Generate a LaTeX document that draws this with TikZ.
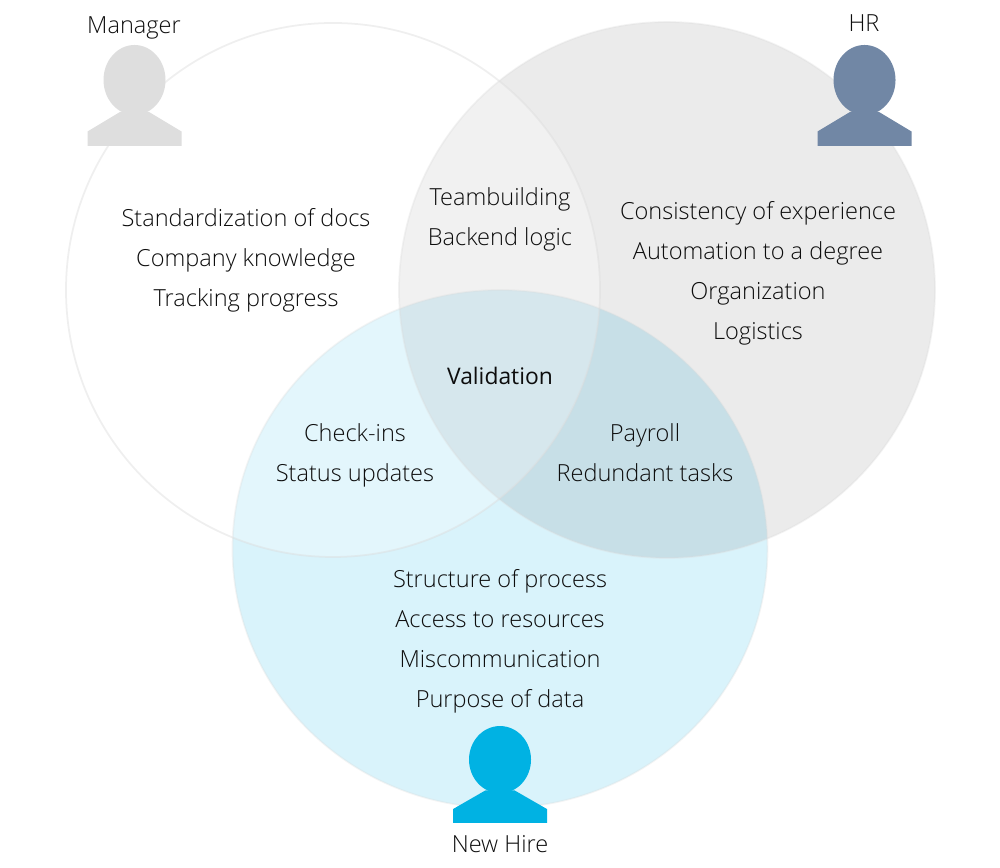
\documentclass[tikz,border=0pt]{standalone}
\usepackage{fontspec}
\setmainfont{Open Sans Light}
\newfontfamily\regularfont{Open Sans}
\definecolor{hirefill}{HTML}{D9F3FB}
\definecolor{hireblue}{HTML}{00B2E3}
\definecolor{hrblue}{HTML}{7187A5}
\definecolor{managergray}{HTML}{DEDEDE}
\definecolor{ringgray}{HTML}{DCDCDC}
\tikzset{
    testo/.style={align=center,text=black!95,font=\fontsize{6.7}{11.38}\selectfont},
    pics/persona/.style={code={
        \fill[#1](0,0.66)ellipse(0.31 and 0.35);
        \fill[#1](-0.145,0.34)--(-0.47,0.145)--(-0.47,0)--(0.47,0)--(0.47,0.145)--(0.145,0.34)--cycle;
    }}
}
\begin{document}
\begin{tikzpicture}
    \useasboundingbox(0,0)rectangle(10,8.67);
    %cerchio new hire
    \fill[hirefill](5,3.18)ellipse(2.675 and 2.59);
    %cerchio hr
    \fill[black,fill opacity=0.08](6.67,5.77)circle(2.68);
    %cerchio manager
    \fill[white,fill opacity=0.28](3.33,5.77)circle(2.67);
    %bordi
    \draw[ringgray,line width=0.5pt,opacity=0.45](3.33,5.77)circle(2.67);
    \draw[ringgray,line width=0.5pt,opacity=0.35](6.67,5.77)circle(2.68);
    \draw[ringgray,line width=0.5pt,opacity=0.3](5,3.18)ellipse(2.675 and 2.59);
    %persone
    \pic at (1.345,7.21){persona=managergray};
    \pic at (8.645,7.21){persona=hrblue};
    \pic[yscale=0.96] at (5,0.44){persona=hireblue};
    %nomi
    \node[testo](manager) at (1.34,8.39){Manager};
    \node[testo](hr) at (8.64,8.44){HR};
    \node[testo](newhire) at (5,0.23){New Hire};
    %testi delle aree
    \node[testo](soloManager) at (2.46,6.07){Standardization of docs\\Company knowledge\\Tracking progress};
    \node[testo](soloHr) at (7.58,5.94){Consistency of experience\\Automation to a degree\\Organization\\Logistics};
    \node[testo](managerHr) at (5,6.48){Teambuilding\\Backend logic};
    \node[testo,font=\fontsize{6.5}{11.38}\regularfont](centro) at (5,4.91){Validation};
    \node[testo](managerHire) at (3.55,4.12){Check-ins\\Status updates};
    \node[testo](hrHire) at (6.45,4.14){Payroll\\Redundant tasks};
    \node[testo](soloHire) at (5,2.26){Structure of process\\Access to resources\\Miscommunication\\Purpose of data};
\end{tikzpicture}
\end{document}
